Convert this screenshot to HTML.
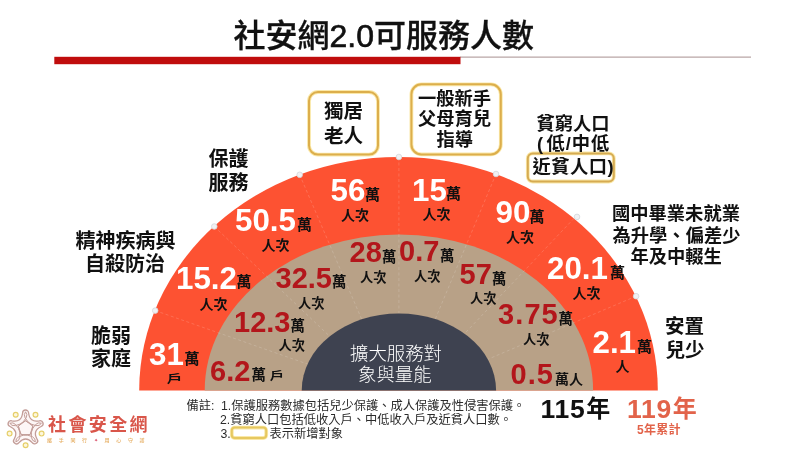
<!DOCTYPE html><html lang="zh-Hant"><head><meta charset="utf-8"><title>社安網2.0可服務人數</title><style>
html,body{margin:0;padding:0;background:#fff}
#s{position:relative;width:800px;height:450px;overflow:hidden;background:#fff;font-family:"Liberation Sans","Noto Sans CJK TC",sans-serif}
.t{position:absolute;white-space:nowrap;line-height:1;margin:0}
</style></head><body><div id="s">
<svg width="800" height="450" viewBox="0 0 800 450" style="position:absolute;left:0;top:0">
<rect x="460" y="56.6" width="291" height="1" fill="#a89090"/>
<rect x="54.3" y="56.8" width="406.2" height="7.4" fill="#c00d0d"/>
<clipPath id="cl"><rect x="0" y="0" width="800" height="390.5"/></clipPath><g clip-path="url(#cl)">
<ellipse cx="398.5" cy="390.4" rx="259.3" ry="233.4" fill="#fd5232"/>
<ellipse cx="398.9" cy="390.4" rx="194.2" ry="156.0" fill="#b8a187"/>
<g stroke="#fff" stroke-opacity="0.16" stroke-width="1" stroke-dasharray="3 2.5" fill="none">
<line x1="155.2" y1="310.6" x2="307.6" y2="364.1"/>
<line x1="214.3" y1="226.5" x2="329.7" y2="336.3"/>
<line x1="299.7" y1="174.8" x2="361.7" y2="319.3"/>
<line x1="398.9" y1="157.0" x2="398.9" y2="313.4"/>
<line x1="496.0" y1="174.0" x2="435.3" y2="319.0"/>
<line x1="574.1" y1="218.3" x2="464.6" y2="333.6"/>
<line x1="636.1" y1="296.2" x2="487.8" y2="359.3"/>
</g>
<ellipse cx="398.9" cy="390.4" rx="97.2" ry="77.0" fill="#3e4250"/>
</g>
<circle cx="155.2" cy="310.6" r="2.8" fill="#f1f1f3" stroke="#d3d7db" stroke-width="0.8"/>
<circle cx="214.3" cy="226.5" r="2.8" fill="#f1f1f3" stroke="#d3d7db" stroke-width="0.8"/>
<circle cx="299.7" cy="174.8" r="2.8" fill="#f1f1f3" stroke="#d3d7db" stroke-width="0.8"/>
<circle cx="398.9" cy="157.0" r="2.8" fill="#f1f1f3" stroke="#d3d7db" stroke-width="0.8"/>
<circle cx="496.0" cy="174.0" r="2.8" fill="#f1f1f3" stroke="#d3d7db" stroke-width="0.8"/>
<circle cx="577.0" cy="216.9" r="2.8" fill="#f1f1f3" stroke="#d3d7db" stroke-width="0.8"/>
<circle cx="636.1" cy="296.2" r="2.8" fill="#f1f1f3" stroke="#d3d7db" stroke-width="0.8"/>
<rect x="309" y="92" width="69.0" height="62.6" rx="9" fill="#fff" stroke="#fae8a8" stroke-width="3.8"/><rect x="309" y="92" width="69.0" height="62.6" rx="9" fill="none" stroke="#dcae4c" stroke-width="2.0"/>
<rect x="411.4" y="84.3" width="89.4" height="70.1" rx="10" fill="#fff" stroke="#fae8a8" stroke-width="3.8"/><rect x="411.4" y="84.3" width="89.4" height="70.1" rx="10" fill="none" stroke="#dcae4c" stroke-width="2.0"/>
<rect x="527.8" y="153.4" width="86.0" height="28.1" rx="5" fill="#fff" stroke="#fae8a8" stroke-width="3.8"/><rect x="527.8" y="153.4" width="86.0" height="28.1" rx="5" fill="none" stroke="#d6ab52" stroke-width="2.0"/>
<rect x="231.8" y="427.6" width="34.4" height="10.4" rx="3" fill="#fff" stroke="#fae8a8" stroke-width="3.8"/><rect x="231.8" y="427.6" width="34.4" height="10.4" rx="3" fill="none" stroke="#e6c860" stroke-width="2"/>
<g fill="#fbeeee" fill-opacity="0.55" stroke="#c39d98" stroke-width="1.3" stroke-linejoin="round">
<path d="M22.60 413.00 A3.0 3.0 0 0 1 28.60 413.00 Q29.71 422.74 39.32 420.79 A3.0 3.0 0 0 1 41.17 426.49 Q32.26 430.56 37.08 439.10 A3.0 3.0 0 0 1 32.22 442.62 Q25.60 435.40 18.98 442.62 A3.0 3.0 0 0 1 14.12 439.10 Q18.94 430.56 10.03 426.49 A3.0 3.0 0 0 1 11.88 420.79 Q21.49 422.74 22.60 413.00Z"/>
<path d="M18.37 426.05 Q30.28 416.81 25.60 411.80 Q20.92 416.81 32.83 426.05" fill="none" stroke-width="1"/>
<path d="M25.60 420.80 Q38.07 429.27 41.39 423.27 Q35.18 420.37 30.07 434.55" fill="none" stroke-width="1"/>
<path d="M32.83 426.05 Q28.62 440.53 35.36 441.83 Q36.20 435.02 21.13 434.55" fill="none" stroke-width="1"/>
<path d="M30.07 434.55 Q15.00 435.02 15.84 441.83 Q22.58 440.53 18.37 426.05" fill="none" stroke-width="1"/>
<path d="M21.13 434.55 Q16.02 420.37 9.81 423.27 Q13.13 429.27 25.60 420.80" fill="none" stroke-width="1"/>
<polygon points="25.60,420.80 18.37,426.05 21.13,434.55 30.07,434.55 32.83,426.05" fill="none" stroke-width="0.9"/>
</g>
<g fill="#fdf7dc" stroke="#e6cf6a" stroke-width="1.2">
<circle cx="35.5" cy="414.8" r="2.4"/>
<circle cx="15.7" cy="414.8" r="2.4"/>
<circle cx="9.6" cy="433.6" r="2.4"/>
<circle cx="25.6" cy="445.2" r="2.4"/>
<circle cx="41.6" cy="433.6" r="2.4"/>
</g>
</svg>
<div class="t" id="title" style="left:233.50px;top:20.00px;font-size:32px;font-weight:500;color:#111"><span style="-webkit-text-stroke:0.3px #111">社安網<span style="-webkit-text-stroke:0.65px #111">2.0</span>可服務人數</span></div>
<div class="t" id="b1a" style="left:324.00px;top:101.50px;font-size:19.5px;font-weight:700;color:#111">獨居</div>
<div class="t" id="b1b" style="left:324.00px;top:127.00px;font-size:19.5px;font-weight:700;color:#111">老人</div>
<div class="t" id="b2a" style="left:418.00px;top:90.00px;font-size:18.3px;font-weight:700;color:#111">一般新手</div>
<div class="t" id="b2b" style="left:418.00px;top:110.00px;font-size:18.3px;font-weight:700;color:#111">父母育兒</div>
<div class="t" id="b2c" style="left:436.50px;top:131.00px;font-size:18.3px;font-weight:700;color:#111">指導</div>
<div class="t" id="p1" style="left:536.50px;top:115.00px;font-size:18.3px;font-weight:700;color:#111">貧窮人口</div>
<div class="t" id="p2" style="left:537.00px;top:134.50px;font-size:18.3px;font-weight:700;color:#111;letter-spacing:0.9px"><span style="letter-spacing:3.5px">(</span>低/中低</div>
<div class="t" id="p3" style="left:532.50px;top:158.00px;font-size:18.3px;font-weight:700;color:#111;letter-spacing:0.5px">近貧人口)</div>
<div class="t" id="l1a" style="left:208.50px;top:149.00px;font-size:20px;font-weight:700;color:#111">保護</div>
<div class="t" id="l1b" style="left:208.50px;top:173.00px;font-size:20px;font-weight:700;color:#111">服務</div>
<div class="t" id="l2a" style="left:75.50px;top:231.00px;font-size:20px;font-weight:700;color:#111">精神疾病與</div>
<div class="t" id="l2b" style="left:85.00px;top:253.50px;font-size:20px;font-weight:700;color:#111">自殺防治</div>
<div class="t" id="l3a" style="left:91.00px;top:326.00px;font-size:20px;font-weight:700;color:#111">脆弱</div>
<div class="t" id="l3b" style="left:91.00px;top:348.50px;font-size:20px;font-weight:700;color:#111">家庭</div>
<div class="t" id="r1a" style="left:612.00px;top:205.00px;font-size:18.3px;font-weight:700;color:#111">國中畢業未就業</div>
<div class="t" id="r1b" style="left:612.50px;top:226.50px;font-size:18.3px;font-weight:700;color:#111">為升學、偏差少</div>
<div class="t" id="r1c" style="left:630.50px;top:247.50px;font-size:18.3px;font-weight:700;color:#111">年及中輟生</div>
<div class="t" id="r2a" style="left:665.00px;top:317.00px;font-size:19.5px;font-weight:700;color:#111">安置</div>
<div class="t" id="r2b" style="left:665.50px;top:341.00px;font-size:19.5px;font-weight:700;color:#111">兒少</div>
<div class="t" id="o1n" style="left:149.00px;top:339.00px;font-size:31.3px;font-weight:700;color:#fff">31</div>
<div class="t" id="o1w" style="left:184.50px;top:351.00px;font-size:15px;font-weight:700;color:#111">萬</div>
<div class="t" id="o1u" style="left:168.00px;top:372.00px;font-size:13px;font-weight:700;color:#111"><span style="display:inline-block;transform:scale(1.2,0.9)">戶</span></div>
<div class="t" id="o2n" style="left:176.00px;top:263.00px;font-size:31.3px;font-weight:700;color:#fff">15.2</div>
<div class="t" id="o2w" style="left:236.50px;top:274.00px;font-size:15px;font-weight:700;color:#111">萬</div>
<div class="t" id="o2u" style="left:199.50px;top:297.00px;font-size:14px;font-weight:700;color:#111">人次</div>
<div class="t" id="o3n" style="left:235.00px;top:204.50px;font-size:31.3px;font-weight:700;color:#fff">50.5</div>
<div class="t" id="o3w" style="left:297.00px;top:217.00px;font-size:15px;font-weight:700;color:#111">萬</div>
<div class="t" id="o3u" style="left:261.50px;top:237.50px;font-size:14px;font-weight:700;color:#111">人次</div>
<div class="t" id="o4n" style="left:330.50px;top:174.50px;font-size:31.3px;font-weight:700;color:#fff">56</div>
<div class="t" id="o4w" style="left:365.00px;top:186.50px;font-size:15px;font-weight:700;color:#111">萬</div>
<div class="t" id="o4u" style="left:341.00px;top:208.00px;font-size:14px;font-weight:700;color:#111">人次</div>
<div class="t" id="o5n" style="left:412.00px;top:174.50px;font-size:31.3px;font-weight:700;color:#fff">15</div>
<div class="t" id="o5w" style="left:446.00px;top:185.50px;font-size:15px;font-weight:700;color:#111">萬</div>
<div class="t" id="o5u" style="left:422.50px;top:207.00px;font-size:14px;font-weight:700;color:#111">人次</div>
<div class="t" id="o6n" style="left:495.50px;top:197.00px;font-size:31.3px;font-weight:700;color:#fff">90</div>
<div class="t" id="o6w" style="left:529.50px;top:208.50px;font-size:15px;font-weight:700;color:#111">萬</div>
<div class="t" id="o6u" style="left:506.00px;top:229.50px;font-size:14px;font-weight:700;color:#111">人次</div>
<div class="t" id="o7n" style="left:547.00px;top:252.50px;font-size:31.3px;font-weight:700;color:#fff">20.1</div>
<div class="t" id="o7w" style="left:610.00px;top:265.00px;font-size:15px;font-weight:700;color:#111">萬</div>
<div class="t" id="o7u" style="left:572.50px;top:285.50px;font-size:14px;font-weight:700;color:#111">人次</div>
<div class="t" id="o8n" style="left:592.50px;top:327.00px;font-size:31.3px;font-weight:700;color:#fff">2.1</div>
<div class="t" id="o8w" style="left:637.00px;top:339.00px;font-size:15px;font-weight:700;color:#111">萬</div>
<div class="t" id="o8u" style="left:615.50px;top:359.00px;font-size:14px;font-weight:700;color:#111">人</div>
<div class="t" id="i1n" style="left:210.00px;top:357.00px;font-size:29px;font-weight:700;color:#b3161b">6.2</div>
<div class="t" id="i1w" style="left:251.50px;top:368.00px;font-size:14.4px;font-weight:700;color:#111">萬</div>
<div class="t" id="i1u" style="left:271.00px;top:370.00px;font-size:12px;font-weight:700;color:#111"><span style="display:inline-block;transform:scale(1.2,0.9)">戶</span></div>
<div class="t" id="i2n" style="left:234.00px;top:308.00px;font-size:29px;font-weight:700;color:#b3161b">12.3</div>
<div class="t" id="i2w" style="left:290.50px;top:319.00px;font-size:14.4px;font-weight:700;color:#111">萬</div>
<div class="t" id="i2u" style="left:278.50px;top:339.00px;font-size:13.2px;font-weight:700;color:#111">人次</div>
<div class="t" id="i3n" style="left:275.50px;top:264.00px;font-size:29px;font-weight:700;color:#b3161b">32.5</div>
<div class="t" id="i3w" style="left:332.00px;top:275.00px;font-size:14.4px;font-weight:700;color:#111">萬</div>
<div class="t" id="i3u" style="left:298.00px;top:297.00px;font-size:13.2px;font-weight:700;color:#111">人次</div>
<div class="t" id="i4n" style="left:349.50px;top:237.50px;font-size:29px;font-weight:700;color:#b3161b">28</div>
<div class="t" id="i4w" style="left:382.00px;top:249.50px;font-size:14.4px;font-weight:700;color:#111">萬</div>
<div class="t" id="i4u" style="left:360.00px;top:271.00px;font-size:13.2px;font-weight:700;color:#111">人次</div>
<div class="t" id="i5n" style="left:399.00px;top:237.00px;font-size:29px;font-weight:700;color:#b3161b">0.7</div>
<div class="t" id="i5w" style="left:440.00px;top:249.00px;font-size:14.4px;font-weight:700;color:#111">萬</div>
<div class="t" id="i5u" style="left:414.00px;top:270.00px;font-size:13.2px;font-weight:700;color:#111">人次</div>
<div class="t" id="i6n" style="left:459.50px;top:260.00px;font-size:29px;font-weight:700;color:#b3161b">57</div>
<div class="t" id="i6w" style="left:492.00px;top:272.00px;font-size:14.4px;font-weight:700;color:#111">萬</div>
<div class="t" id="i6u" style="left:470.00px;top:292.00px;font-size:13.2px;font-weight:700;color:#111">人次</div>
<div class="t" id="i7n" style="left:498.00px;top:299.50px;font-size:29px;font-weight:700;color:#b3161b;letter-spacing:1.1px">3.75</div>
<div class="t" id="i7w" style="left:558.50px;top:312.00px;font-size:14.4px;font-weight:700;color:#111">萬</div>
<div class="t" id="i7u" style="left:523.00px;top:333.00px;font-size:13.2px;font-weight:700;color:#111">人次</div>
<div class="t" id="i8n" style="left:510.50px;top:360.00px;font-size:29px;font-weight:700;color:#b3161b;letter-spacing:1.0px">0.5</div>
<div class="t" id="i8w" style="left:555.00px;top:372.00px;font-size:14px;font-weight:700;color:#111">萬人</div>
<div class="t" id="n1" style="left:350.00px;top:345.00px;font-size:18.4px;font-weight:300;color:#fff">擴大服務對</div>
<div class="t" id="n2" style="left:358.00px;top:366.00px;font-size:18.4px;font-weight:300;color:#fff">象與量能</div>
<div class="t" id="y1" style="left:540.50px;top:395.50px;font-size:26.5px;font-weight:700;color:#111;letter-spacing:0.7px">115<span style="font-size:24px;margin-left:0.8px;letter-spacing:0;position:relative;top:-0.8px">年</span></div>
<div class="t" id="y2" style="left:627.00px;top:395.50px;font-size:26.5px;font-weight:700;color:#e2634a;letter-spacing:0.7px">119<span style="font-size:24px;margin-left:0.8px;letter-spacing:0;position:relative;top:-0.8px">年</span></div>
<div class="t" id="y3" style="left:637.00px;top:424.00px;font-size:12px;font-weight:700;color:#e2634a;letter-spacing:0.3px">5年累計</div>
<div class="t" id="t0" style="left:186.50px;top:400.00px;font-size:12.25px;font-weight:400;color:#2b2b2b">備註:</div>
<div class="t" id="t1" style="left:221.00px;top:400.00px;font-size:12.25px;font-weight:400;color:#2b2b2b">1.保護服務數據包括兒少保護、成人保護及性侵害保護。</div>
<div class="t" id="t2" style="left:220.00px;top:413.50px;font-size:12.25px;font-weight:400;color:#2b2b2b">2.貧窮人口包括低收入戶、中低收入戶及近貧人口數。</div>
<div class="t" id="t3" style="left:220.50px;top:428.00px;font-size:12.25px;font-weight:400;color:#2b2b2b">3.</div>
<div class="t" id="t4" style="left:269.50px;top:428.00px;font-size:12.25px;font-weight:400;color:#2b2b2b">表示新增對象</div>
<div class="t" id="g1" style="left:48.00px;top:416.00px;font-size:18px;font-weight:700;color:#d9564a;letter-spacing:2.4px">社會安全網</div>
<div class="t" id="g2" style="left:47.3px;top:438px;font-size:10px;font-weight:500;color:#e6ae62;letter-spacing:13.4px;transform:scale(0.5);transform-origin:0 0">攜手同行<span style="color:#d9506a">✦</span>用心守護</div>
</div></body></html>
